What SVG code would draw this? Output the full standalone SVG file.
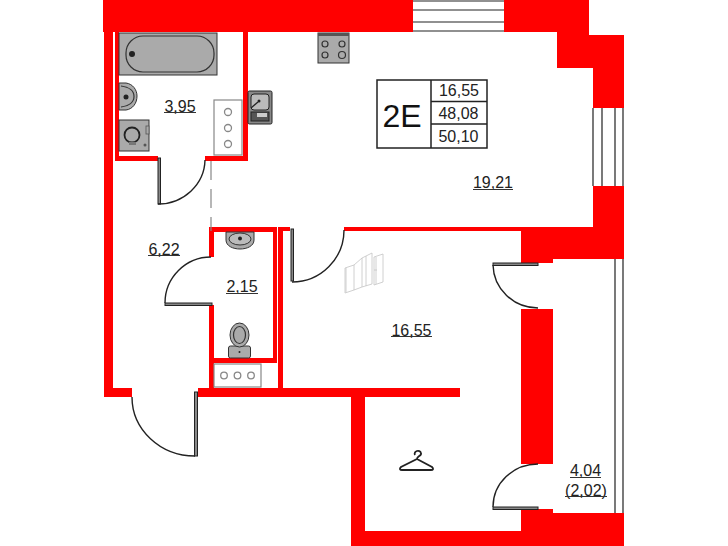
<svg xmlns="http://www.w3.org/2000/svg" width="728" height="546" viewBox="0 0 728 546">
<style>
.w{fill:#ff0000;stroke:none}
.ln{fill:none;stroke:#222;stroke-width:1.5}
.leaf{fill:#888;stroke:#222;stroke-width:1}
.arc{fill:none;stroke:#222;stroke-width:1.4}
.fx{fill:#aaa;stroke:#333;stroke-width:1}
.dk{fill:none;stroke:#333;stroke-width:1.2}
.cnt{fill:#fff;stroke:#888;stroke-width:1.2}
.brn{fill:#fff;stroke:#888;stroke-width:1.3}
.t{font-family:"Liberation Sans",Arial,sans-serif;font-size:16px;fill:#222;text-anchor:middle}
.u{stroke:#333;stroke-width:1;fill:none}
.wn{fill:none;stroke:#222;stroke-width:1.2}
.gh{fill:none;stroke:#c4c4c4;stroke-width:.8}
</style>
<rect width="728" height="546" fill="#fff"/>
<g id="walls">
<path class="w" d="M103 0H413V32H113V388H132V397H104V32H103Z"/>
<path class="w" d="M504 0H589V35H624V108H593V68H557V32H504Z"/>
<path class="w" d="M593 186H624V259H553V263H521V231H344V227H593Z"/>
<path class="w" d="M521 309H553V464H521Z"/>
<path class="w" d="M198 388H278V227H290V231H283V388H460V397H365V531H521V509H553V513H624V546H351V397H198Z"/>
<path class="w" d="M115 32H119V156H158V161H115Z"/>
<path class="w" d="M243 32H248V161H205V156H243Z"/>
<path class="w" d="M209 227H277V363H214V388H209V305H214V358H273V232H214V257H209Z"/>
</g>
<g id="windows">
<path class="wn" d="M413 1H504M413 10H504M413 22H504M413 31H504"/>
<path class="wn" d="M593 108V186M602 108V186M615 108V186M623 108V186"/>
<path class="wn" d="M615 259V513M623 259V513"/>
</g>
<g id="connectors">
<path d="M211 161V231" fill="none" stroke="#888" stroke-width="1.2" stroke-dasharray="19 9"/>
<rect class="leaf" x="158" y="158" width="2.5" height="46"/>
<path class="arc" d="M158 204A47 45 0 0 0 205 160"/>
<rect class="leaf" x="165" y="303" width="47" height="2.5"/>
<path class="arc" d="M165 303A46 46 0 0 1 211 257"/>
<rect class="leaf" x="194.500" y="392" width="3" height="64"/>
<path class="arc" d="M132 397A63 59 0 0 0 195 456"/>
<rect class="leaf" x="291" y="229" width="2.500" height="52"/>
<path class="arc" d="M292 282A52 52 0 0 0 344 230"/>
<rect class="leaf" x="493" y="263" width="45" height="2.500"/>
<path class="arc" d="M493 265A45 44 0 0 0 538 308"/>
<rect class="leaf" x="493" y="507" width="45" height="2.500"/>
<path class="arc" d="M493 507A45 43 0 0 1 538 464"/>
</g>
<g id="bath">
<rect class="fx" x="119" y="33" width="98" height="42"/>
<rect x="126" y="36" width="88" height="36" rx="17" fill="#aaa" stroke="#333" stroke-width="1.2"/>
<circle cx="132" cy="54" r="3" fill="#222"/>
</g>
<g id="bath-sink">
<path class="fx" d="M119 83H126C133 84 137 90 137 96C137 103 133 109 126 110H119Z"/>
<path class="dk" d="M121 86C129 87 134 91 134 96.500C134 102 129 106 121 107"/>
<circle cx="126" cy="97" r="2.500" fill="#222"/>
</g>
<g id="bath-toilet">
<rect class="fx" x="119" y="120" width="30" height="31"/>
<circle cx="132" cy="135" r="7.500" fill="#aaa" stroke="#222" stroke-width="1.800"/>
<path d="M129 142H136V145H129Z" fill="#777"/>
<rect x="146" y="126" width="3" height="8" fill="#aaa" stroke="#555" stroke-width=".8"/>
<circle cx="145" cy="145" r="1.500" fill="#555"/>
</g>
<g id="bath-counter">
<rect class="cnt" x="214" y="100" width="28" height="55"/>
<circle class="brn" cx="228" cy="112" r="3.500"/>
<circle class="brn" cx="228" cy="128" r="3.500"/>
<circle class="brn" cx="228" cy="144" r="3.500"/>
</g>
<g id="kitchen-sink">
<rect x="248" y="91" width="24" height="33" rx="1.500" fill="#888" stroke="#222"/>
<rect x="251" y="94" width="18" height="16" rx="3" fill="#bbb" stroke="#222"/>
<circle cx="259" cy="101" r="1.500" fill="#222"/>
<path d="M258 102L251 108" stroke="#222" stroke-width="1.300" fill="none"/>
<rect x="251" y="112" width="18" height="9" fill="#555" stroke="#222"/>
<rect x="257" y="113" width="10" height="4" fill="#ccc"/>
</g>
<g id="stove">
<rect class="fx" x="318" y="33" width="31" height="30" stroke="#999"/>
<rect x="318" y="33" width="31" height="3" fill="#555"/>
<circle class="dk" cx="325" cy="44" r="3"/>
<circle class="dk" cx="342" cy="44" r="3"/>
<circle class="dk" cx="325" cy="55" r="3"/>
<circle class="dk" cx="342" cy="55" r="3.500"/>
</g>
<g id="wc-sink">
<path class="fx" d="M226 232H254V240C254 246 247 249 240 249C233 249 226 246 226 240Z"/>
<ellipse cx="240" cy="239" rx="11" ry="6" fill="#bbb" stroke="#333"/>
<circle cx="240" cy="238.500" r="2" fill="#222"/>
</g>
<g id="wc-toilet">
<rect class="fx" x="228.500" y="346" width="22" height="12" rx="2"/>
<ellipse class="fx" cx="239.500" cy="335" rx="9.500" ry="12"/>
<ellipse class="dk" cx="239.500" cy="335" rx="6" ry="8.500"/>
<circle cx="239.500" cy="352" r="1" fill="#222"/>
</g>
<g id="wc-counter">
<rect class="cnt" x="214" y="364" width="47" height="23"/>
<circle class="brn" cx="224" cy="375.500" r="3.300"/>
<circle class="brn" cx="237.500" cy="375.500" r="3.300"/>
<circle class="brn" cx="251" cy="375.500" r="3.300"/>
</g>
<g id="wardrobe">
<path class="gh" d="M345 268L354 265V290L345 293ZM346 268V292M354 265L362 258V287L354 290M362 258L372 253V284L362 287M366 256V286M374 257L383 254V282L374 285ZM376 257V284M374 270H377"/>
</g>
<g id="hanger">
<path d="M415 455C413 451 420 449 421 453C422 456 417 456 417 459M417 459L432 467C434 469 433 470 431 470H402C400 470 399 469 401 467Z" fill="none" stroke="#222" stroke-width="1.800"/>
</g>
<g id="info-table">
<rect x="377" y="80" width="110" height="68" fill="#fff" stroke="#222" stroke-width="1.500"/>
<path class="ln" d="M431 80V148M431 101.500H487M431 124H487"/>
<text x="402" y="127" font-family="'Liberation Sans',Arial,sans-serif" font-size="32" fill="#111" text-anchor="middle">2E</text>
<text class="t" x="459" y="96">16,55</text>
<text class="t" x="458.500" y="119">48,08</text>
<text class="t" x="458.500" y="142">50,10</text>
</g>
<g id="labels">
<text class="t" x="180" y="112">3,95</text><path class="u" d="M164 112.500H196"/>
<text class="t" x="493" y="188">19,21</text><path class="u" d="M473 189.500H513"/>
<text class="t" x="164" y="255">6,22</text><path class="u" d="M148 255.500H180"/>
<text class="t" x="242" y="292">2,15</text><path class="u" d="M226 293.500H258"/>
<text class="t" x="411.500" y="336">16,55</text><path class="u" d="M391 336.500H432"/>
<text class="t" x="585.500" y="476">4,04</text><path class="u" d="M570 477.500H601"/>
<text class="t" x="586" y="496">(2,02)</text><path class="u" d="M565 496.500H607"/>
</g>
</svg>
